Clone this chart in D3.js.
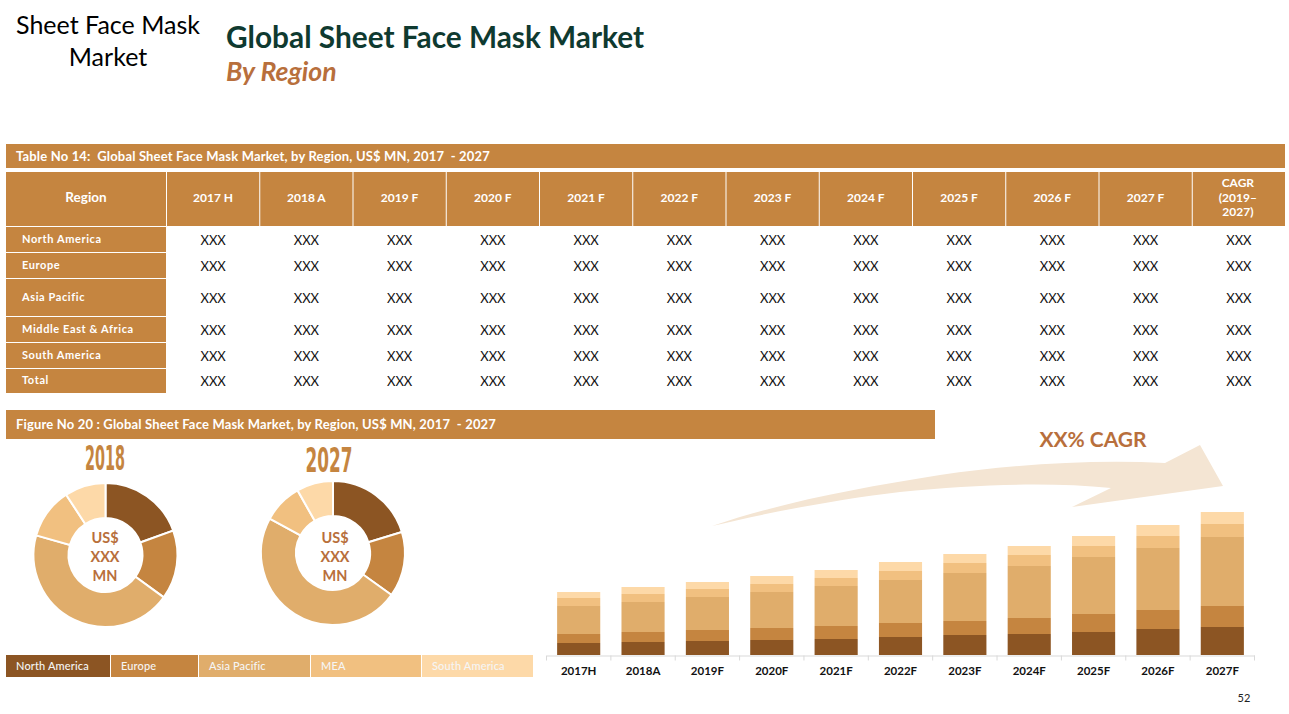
<!DOCTYPE html>
<html>
<head>
<meta charset="utf-8">
<script src="https://cdn.jsdelivr.net/npm/d3@7"></script>
<style>
  body { margin: 0; background: #fff; }
  svg { display: block; }
  text { font-family: Lato, "Open Sans", sans-serif; white-space: pre; }
</style>
</head>
<body>
<div id="chart"></div>
<script>
// table content
const tableColumns = ["2017 H", "2018 A", "2019 F", "2020 F", "2021 F", "2022 F", "2023 F", "2024 F", "2025 F", "2026 F", "2027 F"];
const tableRegions = ["North America", "Europe", "Asia Pacific", "Middle East & Africa", "South America", "Total"];

// chart content
const regionKeys = ["North America", "Europe", "Asia Pacific", "MEA", "South America"];
const years = ["2017H", "2018A", "2019F", "2020F", "2021F", "2022F", "2023F", "2024F", "2025F", "2026F", "2027F"];
const northAmerica = [12, 13, 14, 15, 16, 18, 20, 21, 23, 26, 28];
const europe = [9, 10, 11, 12, 13, 14, 14, 16, 18, 19, 21];
const asiaPacific = [28, 30, 33, 36, 40, 43, 48, 52, 57, 62, 69];
const mea = [8, 8, 8, 8, 8, 9, 10, 11, 11, 12, 13];
const southAmerica = [6, 7, 7, 8, 8, 9, 9, 9, 10, 11, 12];
const share2018 = [19.5, 15.5, 44.4, 11.4, 9.2];
const share2027 = [20.3, 14.6, 48, 8.9, 8.2];

const colors = ["#8c5523", "#c58540", "#e0ad6b", "#f1c080", "#fdd9a8"];
const barColor = "#c58540";

const svg = d3.select("#chart").append("svg")
    .attr("width", 1289)
    .attr("height", 714);

// titles
svg.append("text").attr("x", 108).attr("y", 34).attr("text-anchor", "middle")
    .attr("font-size", 25).text("Sheet Face Mask");
svg.append("text").attr("x", 108).attr("y", 66).attr("text-anchor", "middle")
    .attr("font-size", 25).text("Market");
svg.append("text").attr("x", 226).attr("y", 48).attr("font-size", 29.8)
    .attr("font-weight", 700).attr("fill", "#0f3a30").text("Global Sheet Face Mask Market");
svg.append("text").attr("x", 226).attr("y", 81).attr("font-size", 26.6)
    .attr("font-weight", 700).attr("font-style", "italic").attr("fill", "#b86f3c").text("By Region");

function titleBar(x, y, w, h, label) {
    svg.append("rect").attr("x", x).attr("y", y).attr("width", w).attr("height", h).attr("fill", barColor);
    svg.append("text").attr("x", x + 10).attr("y", y + h / 2 + 4.5)
        .attr("font-size", 13).attr("letter-spacing", 0.17).attr("font-weight", 700).attr("fill", "#fff").text(label);
}

// table
titleBar(6, 144, 1279, 24, "Table No 14:  Global Sheet Face Mask Market, by Region, US$ MN, 2017  - 2027");

const firstColWidth = 160;
const colX = d3.scaleBand().domain([...tableColumns, "CAGR"]).range([167, 1286]);
const rowHeights = [26, 26, 38, 26, 26, 25];
const rowTop = d3.cumsum([227, ...rowHeights]);

const head = svg.append("g");
head.append("rect").attr("x", 6).attr("y", 172).attr("width", firstColWidth).attr("height", 54).attr("fill", barColor);
head.append("text").attr("x", 86).attr("y", 202).attr("text-anchor", "middle")
    .attr("font-size", 13.5).attr("font-weight", 700).attr("fill", "#fff").text("Region");

head.selectAll(".head-cell").data(colX.domain()).enter().append("rect")
    .attr("class", "head-cell")
    .attr("x", d => colX(d))
    .attr("y", 172)
    .attr("width", colX.bandwidth() - 1)
    .attr("height", 54)
    .attr("fill", barColor);

head.selectAll(".head-label").data(tableColumns).enter().append("text")
    .attr("class", "head-label")
    .attr("x", d => colX(d) + colX.bandwidth() / 2 - 0.5)
    .attr("y", 202)
    .attr("text-anchor", "middle")
    .attr("font-size", 12)
    .attr("font-weight", 700)
    .attr("fill", "#fff")
    .text(d => d);

["CAGR", "(2019–", "2027)"].forEach((t, i) => {
    head.append("text").attr("x", colX("CAGR") + colX.bandwidth() / 2 - 1.5).attr("y", 187 + i * 14.5)
        .attr("text-anchor", "middle").attr("font-size", 12).attr("font-weight", 700)
        .attr("fill", "#fff").text(t);
});

tableRegions.forEach((region, i) => {
    const y = rowTop[i];
    const h = rowHeights[i];
    svg.append("rect").attr("x", 6).attr("y", y).attr("width", firstColWidth).attr("height", h - 1).attr("fill", barColor);
    svg.append("text").attr("x", 22).attr("y", y + h / 2 + (i == 5 ? 2 : 3))
        .attr("font-size", 11).attr("letter-spacing", 0.6).attr("font-weight", 700).attr("fill", "#fff").text(region);
    svg.selectAll(".cell-" + i).data(colX.domain()).enter().append("text")
        .attr("class", "cell-" + i)
        .attr("x", d => colX(d) + colX.bandwidth() / 2 - 0.5)
        .attr("y", y + h / 2 + (i == 5 ? 4.5 : 4.5))
        .attr("text-anchor", "middle")
        .attr("font-size", 13)
        .attr("fill", "#111")
        .text("XXX");
});

// figure
titleBar(6, 410, 929, 29, "Figure No 20 : Global Sheet Face Mask Market, by Region, US$ MN, 2017  - 2027");

// donuts
function donut(cx, cy, values, year, yearX, yearY, yearW, labelX) {
    const pie = d3.pie().sort(null)(values);
    const arc = d3.arc().innerRadius(37).outerRadius(72);
    const g = svg.append("g").attr("transform", `translate(${cx},${cy})`);
    g.selectAll("path").data(pie).enter().append("path")
        .attr("d", arc)
        .attr("fill", (d, i) => colors[i])
        .attr("stroke", "#fff")
        .attr("stroke-width", 2);
    ["US$", "XXX", "MN"].forEach((t, i) => {
        svg.append("text").attr("x", labelX).attr("y", 543 + i * 19).attr("text-anchor", "middle")
            .attr("font-size", 14.5).attr("font-weight", 700).attr("fill", "#b86f3c").text(t);
    });
    svg.append("text").attr("x", yearX).attr("y", yearY).attr("text-anchor", "middle")
        .style("font-family", "'Liberation Sans Narrow', 'DejaVu Sans Condensed', sans-serif")
        .attr("font-size", 33).attr("font-weight", 700).attr("fill", barColor)
        .attr("textLength", yearW).attr("lengthAdjust", "spacingAndGlyphs")
        .text(year);
}
donut(105.5, 555, share2018, "2018", 105, 470, 40, 105);
donut(333, 553, share2027, "2027", 329, 472, 47, 335);

// legend
const legendEdges = [6, 111, 199, 311, 422, 534];
regionKeys.forEach((name, i) => {
    svg.append("rect").attr("x", legendEdges[i]).attr("y", 655)
        .attr("width", legendEdges[i + 1] - legendEdges[i] - 1).attr("height", 22).attr("fill", colors[i]);
    svg.append("text").attr("x", legendEdges[i] + 10).attr("y", 670)
        .attr("font-size", 11).attr("letter-spacing", 0.15).attr("fill", "#f5f5f5").attr("font-weight", 500).text(name);
});

// growth arrow
svg.append("path")
    .attr("d", "M712,526 C790,500 860,488 940,475 C1010,465 1090,459 1165,463 L1200,445 L1223,486 L1072,507 L1111,488 C1050,482 980,484 900,492 C840,499 770,512 712,526 Z")
    .attr("fill", "#f4e5d3");
svg.append("text").attr("x", 1093).attr("y", 447).attr("text-anchor", "middle")
    .attr("font-size", 21).attr("font-weight", 700).attr("fill", "#b86f3c").text("XX% CAGR");

// stacked bars
const barData = years.map((year, i) => ({
    year,
    "North America": northAmerica[i],
    "Europe": europe[i],
    "Asia Pacific": asiaPacific[i],
    "MEA": mea[i],
    "South America": southAmerica[i]
}));

const x = d3.scaleBand().domain(years).range([546.5, 1254.5]).padding(0.165).paddingInner(0.33);
const y = d3.scaleLinear().domain([0, 143]).range([655, 512]);

const stacked = d3.stack().keys(regionKeys)(barData);

svg.append("g").selectAll("g").data(stacked).enter().append("g")
    .attr("fill", (d, i) => colors[i])
    .selectAll("rect").data(d => d).enter().append("rect")
    .attr("x", d => x(d.data.year))
    .attr("y", d => y(d[1]))
    .attr("width", x.bandwidth())
    .attr("height", d => y(d[0]) - y(d[1]));

const xAxis = svg.append("g")
    .attr("transform", "translate(0,655.5)")
    .call(d3.axisBottom(x).tickSize(0).tickPadding(11));
xAxis.select(".domain").attr("stroke", "#d9d9d9").attr("stroke-width", 1);
xAxis.selectAll("text")
    .attr("font-size", 11.5).attr("font-weight", 700).attr("fill", "#111")
    .style("font-family", "Lato, sans-serif");

// ticks sit between the categories
xAxis.selectAll(".sep").data(d3.range(years.length + 1)).enter().append("line")
    .attr("class", "sep")
    .attr("x1", i => 546.5 + i * x.step())
    .attr("x2", i => 546.5 + i * x.step())
    .attr("y1", 0)
    .attr("y2", 5)
    .attr("stroke", "#d9d9d9");

// page number
svg.append("text").attr("x", 1244).attr("y", 702).attr("text-anchor", "middle")
    .attr("font-size", 11).attr("fill", "#222").text("52");
</script>
</body>
</html>
